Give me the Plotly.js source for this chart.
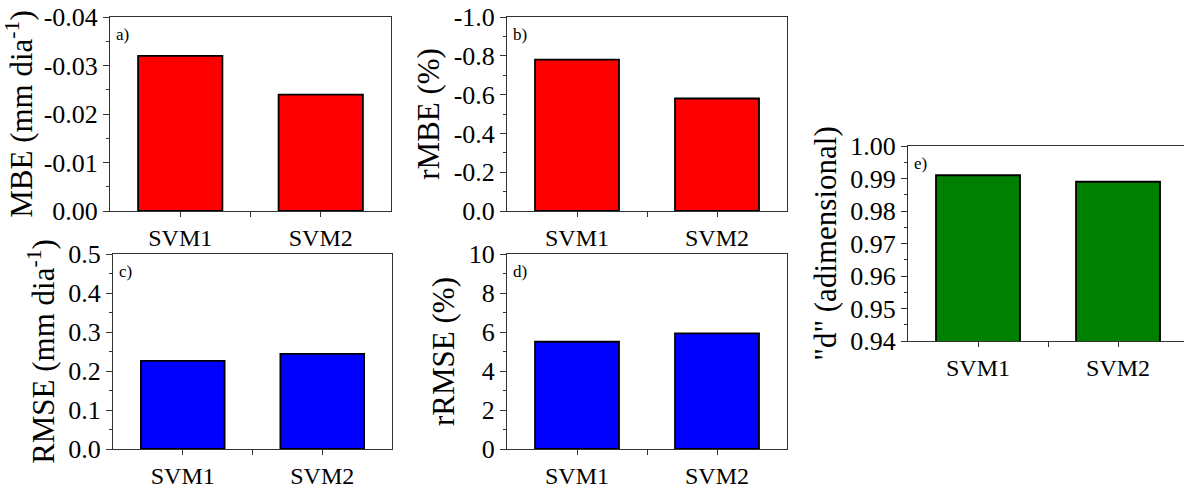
<!DOCTYPE html>
<html>
<head>
<meta charset="utf-8">
<script src="https://cdn.plot.ly/plotly-3.0.1.min.js"></script>
<style>html,body{margin:0;padding:0;background:#fff}#chart{width:1184px;height:488px}</style>
</head>
<body>
<div id="chart"></div>
<script>
// ---- data ----
var categories = ['SVM1', 'SVM2'];
var mbe   = [-0.032, -0.024];   // mm dia-1
var rmbe  = [-0.78, -0.58];     // %
var rmse  = [0.226, 0.244];     // mm dia-1
var rrmse = [5.50, 5.93];       // %
var dIdx  = [0.991, 0.989];     // adimensional

var mbeTicks   = [-0.04, -0.03, -0.02, -0.01, 0.00];
var rmbeTicks  = [-1.0, -0.8, -0.6, -0.4, -0.2, 0.0];
var rmseTicks  = [0.0, 0.1, 0.2, 0.3, 0.4, 0.5];
var rrmseTicks = [0, 2, 4, 6, 8, 10];
var dTicks     = [0.94, 0.95, 0.96, 0.97, 0.98, 0.99, 1.00];

var panelLabels = ['a)', 'b)', 'c)', 'd)', 'e)'];
var yTitles = ['MBE (mm dia<sup>-1</sup>)', 'rMBE (%)', 'RMSE (mm dia<sup>-1</sup>)', 'rRMSE (%)', '"d" (adimensional)'];

// ---- layout helpers ----
var W = 1184, H = 488;
var FONT = 'Liberation Serif';
var xpos = categories.map(function (c, i) { return i + 1; });

function dx(a, b) { return [a / W, b / W]; }
function dy(top, bot) { return [1 - bot / H, 1 - top / H]; }

var panels = [
  {vals: mbe,   color: '#ff0000', ticks: mbeTicks,   dec: 2, range: [0, -0.04], minor: 0.005, xd: dx(110, 391), yd: dy(17, 211),  xr: [0.5, 2.5]},
  {vals: rmbe,  color: '#ff0000', ticks: rmbeTicks,  dec: 1, range: [0, -1.0],  minor: 0.1,   xd: dx(507, 787), yd: dy(17, 211),  xr: [0.5, 2.5]},
  {vals: rmse,  color: '#0000ff', ticks: rmseTicks,  dec: 1, range: [0, 0.5],   minor: 0.05,  xd: dx(113, 392), yd: dy(254, 449), xr: [0.5, 2.5]},
  {vals: rrmse, color: '#0000ff', ticks: rrmseTicks, dec: 0, range: [0, 10],    minor: 1,     xd: dx(507, 787), yd: dy(254, 449), xr: [0.5, 2.5]},
  {vals: dIdx,  color: '#008000', ticks: dTicks,     dec: 2, range: [0.94, 1.0],minor: 0.005, xd: dx(908, 1184), yd: dy(146, 341), xr: [0.5, 2.471], noRight: true}
];

var traces = [];
var layout = {
  width: W, height: H,
  margin: {l: 0, r: 0, t: 0, b: 0},
  paper_bgcolor: '#ffffff', plot_bgcolor: '#ffffff',
  showlegend: false,
  font: {family: FONT, color: '#000000'},
  annotations: []
};

panels.forEach(function (p, i) {
  var n = i + 1;
  var xk = n === 1 ? 'x' : 'x' + n, yk = n === 1 ? 'y' : 'y' + n;
  var xl = n === 1 ? 'xaxis' : 'xaxis' + n, yl = n === 1 ? 'yaxis' : 'yaxis' + n;
  traces.push({
    type: 'bar', x: xpos, y: p.vals, xaxis: xk, yaxis: yk, width: 0.6,
    marker: {color: p.color, line: {color: '#000000', width: 1.8}},
    hoverinfo: 'skip'
  });
  layout[xl] = {
    domain: p.xd, anchor: yk, range: p.xr, fixedrange: true,
    tickmode: 'array', tickvals: xpos, ticktext: categories,
    ticks: 'outside', ticklen: 5, tickwidth: 1, tickcolor: '#333333',
    minor: {tickmode: 'array', tickvals: [1.5], ticks: 'outside', ticklen: 5, tickwidth: 1, tickcolor: '#333333'},
    showline: true, linecolor: '#333333', linewidth: 1, mirror: true,
    showgrid: false, zeroline: false,
    tickfont: {family: FONT, size: 24, color: '#000000'}
  };
  layout[yl] = {
    domain: p.yd, anchor: xk, range: p.range, fixedrange: true,
    tickmode: 'array', tickvals: p.ticks,
    ticktext: p.ticks.map(function (v) { return v.toFixed(p.dec); }),
    ticks: 'outside', ticklen: 6, tickwidth: 1, tickcolor: '#333333',
    minor: {dtick: p.minor, tick0: 0, ticks: 'outside', ticklen: 3, tickwidth: 1, tickcolor: '#333333'},
    showline: true, linecolor: '#333333', linewidth: 1, mirror: p.noRight ? false : true,
    showgrid: false, zeroline: false,
    tickfont: {family: FONT, size: 26, color: '#000000'},
    title: {text: yTitles[i], font: {family: FONT, size: 31, color: '#000000'}, standoff: 4}
  };
  layout.annotations.push({
    xref: xk + ' domain', yref: yk + ' domain', x: 0.015, y: 0.97,
    xanchor: 'left', yanchor: 'top', showarrow: false,
    text: panelLabels[i], font: {family: FONT, size: 17, color: '#000000'}
  });
});

Plotly.newPlot('chart', traces, layout, {displayModeBar: false, staticPlot: true});
</script>
</body>
</html>
